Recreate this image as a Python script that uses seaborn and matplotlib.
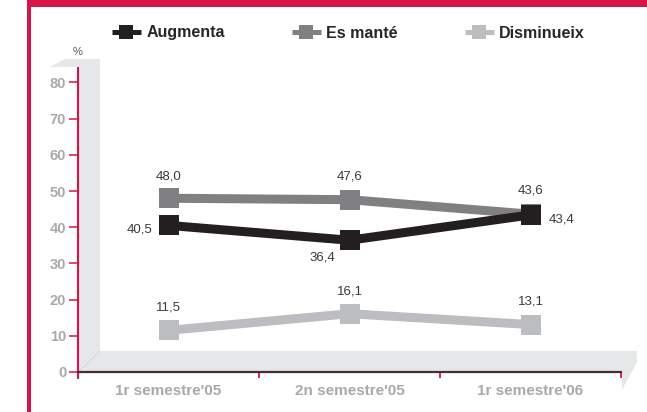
import matplotlib
matplotlib.use("Agg")
import matplotlib.pyplot as plt
from matplotlib.patches import Polygon, Rectangle
from matplotlib.lines import Line2D
import pandas as pd
import seaborn as sns

# data
periods = ["1r semestre'05", "2n semestre'05", "1r semestre'06"]
augmenta = [40.5, 36.4, 43.4]
es_mante = [48.0, 47.6, 43.6]
disminueix = [11.5, 16.1, 13.1]
series_names = ["Augmenta", "Es manté", "Disminueix"]
y_ticks = [0, 10, 20, 30, 40, 50, 60, 70, 80]

colors = {"Augmenta": "#231f20", "Es manté": "#808083", "Disminueix": "#bcbdc0"}
RED = "#d7144a"
WALL = "#e6e7e8"
LABEL_GRAY = "#a7a9ac"

sns.set_style("white")
plt.rcParams["font.family"] = ["Liberation Sans", "DejaVu Sans"]

W, H = 647, 412
fig = plt.figure(figsize=(W / 100, H / 100), dpi=100)


def px(x, y):
    # pixel coords (origin top-left) -> figure fraction
    return (x / W, 1 - y / H)


# 3D-ish wall and floor behind the plot
wall = [px(50, 67), px(65, 59), px(100, 59), px(100, 351), px(637, 351),
        px(637, 362), px(622, 390), px(622, 372), px(78, 372), px(78, 67)]
fig.add_artist(Polygon(wall, closed=True, facecolor=WALL, edgecolor="none",
                       transform=fig.transFigure, zorder=-2))
fig.add_artist(Line2D([78 / W, 100 / W], [1 - 372 / H, 1 - 351 / H], color="#d9dadc",
                      lw=0.8, transform=fig.transFigure, zorder=-1))

# red frame
fig.add_artist(Rectangle(px(27, 7), (W - 27) / W, 7 / H, facecolor=RED, edgecolor="none",
                         transform=fig.transFigure, zorder=5))
fig.add_artist(Rectangle(px(26.5, 412), 4.5 / W, 1, facecolor=RED, edgecolor="none",
                         transform=fig.transFigure, zorder=5))

# axes: x from 78 to 621 px, y from 378 (bottom) to 68 (top)
left, right, top, bottom = 78, 621, 68, 378
ax = fig.add_axes([left / W, 1 - bottom / H, (right - left) / W, (bottom - top) / H])
ax.set_facecolor("none")

df = pd.DataFrame({
    "periode": periods * 3,
    "valor": augmenta + es_mante + disminueix,
    "serie": [s for s in series_names for _ in periods],
})

sns.lineplot(data=df, x="periode", y="valor", hue="serie",
             hue_order=["Disminueix", "Es manté", "Augmenta"], palette=colors,
             marker="s", markersize=13.7, markeredgewidth=0, linewidth=6.5,
             sort=False, legend=False, ax=ax, clip_on=False)

ax.set_xlim(-0.5, 2.5)
ax.set_ylim(-1.66, 83.98)
ax.set_xlabel("")
ax.set_ylabel("")

for s in ["top", "right"]:
    ax.spines[s].set_visible(False)
ax.spines["left"].set_color(RED)
ax.spines["left"].set_linewidth(1.5)
ax.spines["bottom"].set_position(("data", 0))
ax.spines["bottom"].set_color("#4a2a33")
ax.spines["bottom"].set_linewidth(1.6)

ax.set_yticks(y_ticks)
ax.set_yticklabels([str(v) for v in y_ticks])
ax.tick_params(axis="y", which="major", left=True, length=6.5, width=1.1, color=RED,
               labelcolor=LABEL_GRAY, labelsize=10.5, pad=2)
for t in ax.get_yticklabels():
    t.set_fontweight("bold")

ax.set_xticks(range(len(periods)))
ax.set_xticklabels(periods)
ax.set_xticks([0.5, 1.5, 2.5], minor=True)
ax.tick_params(axis="x", which="major", length=0, labelcolor=LABEL_GRAY, labelsize=11, pad=9)
ax.tick_params(axis="x", which="minor", bottom=True, length=4.3, width=1.3, color=RED)
for t in ax.get_xticklabels():
    t.set_fontweight("bold")

# value labels (offsets in pixels)
label_pos = {
    "Augmenta": [(-16, -4, "right"), (-27, -17, "center"), (18, -5, "left")],
    "Es manté": [(0, 22, "center"), (0, 23, "center"), (0, 24, "center")],
    "Disminueix": [(0, 23, "center"), (0, 22, "center"), (0, 23, "center")],
}
values = {"Augmenta": augmenta, "Es manté": es_mante, "Disminueix": disminueix}
for name in series_names:
    for i, v in enumerate(values[name]):
        dx, dy, ha = label_pos[name][i]
        ax.annotate(f"{v:.1f}".replace(".", ","), (i, v), xytext=(dx, dy),
                    textcoords="offset pixels", ha=ha, va="center", fontsize=9.5,
                    color="#3a3a3a")

fig.text(78 / W, 1 - 52 / H, "%", ha="center", va="center", fontsize=8, color="#555555")

handles = [Line2D([], [], color=colors[n], marker="s", lw=3.6, markersize=9.4,
                  markeredgewidth=0, solid_capstyle="butt") for n in series_names]
leg = fig.legend(handles, series_names, ncol=3, loc="center left",
                 bbox_to_anchor=(112 / W, 1 - 33 / H), frameon=False, borderpad=0,
                 borderaxespad=0, handlelength=1.8, handletextpad=0.35, columnspacing=4.2,
                 prop={"weight": "bold", "size": 11.5})

fig.savefig("out.png", dpi=100)
